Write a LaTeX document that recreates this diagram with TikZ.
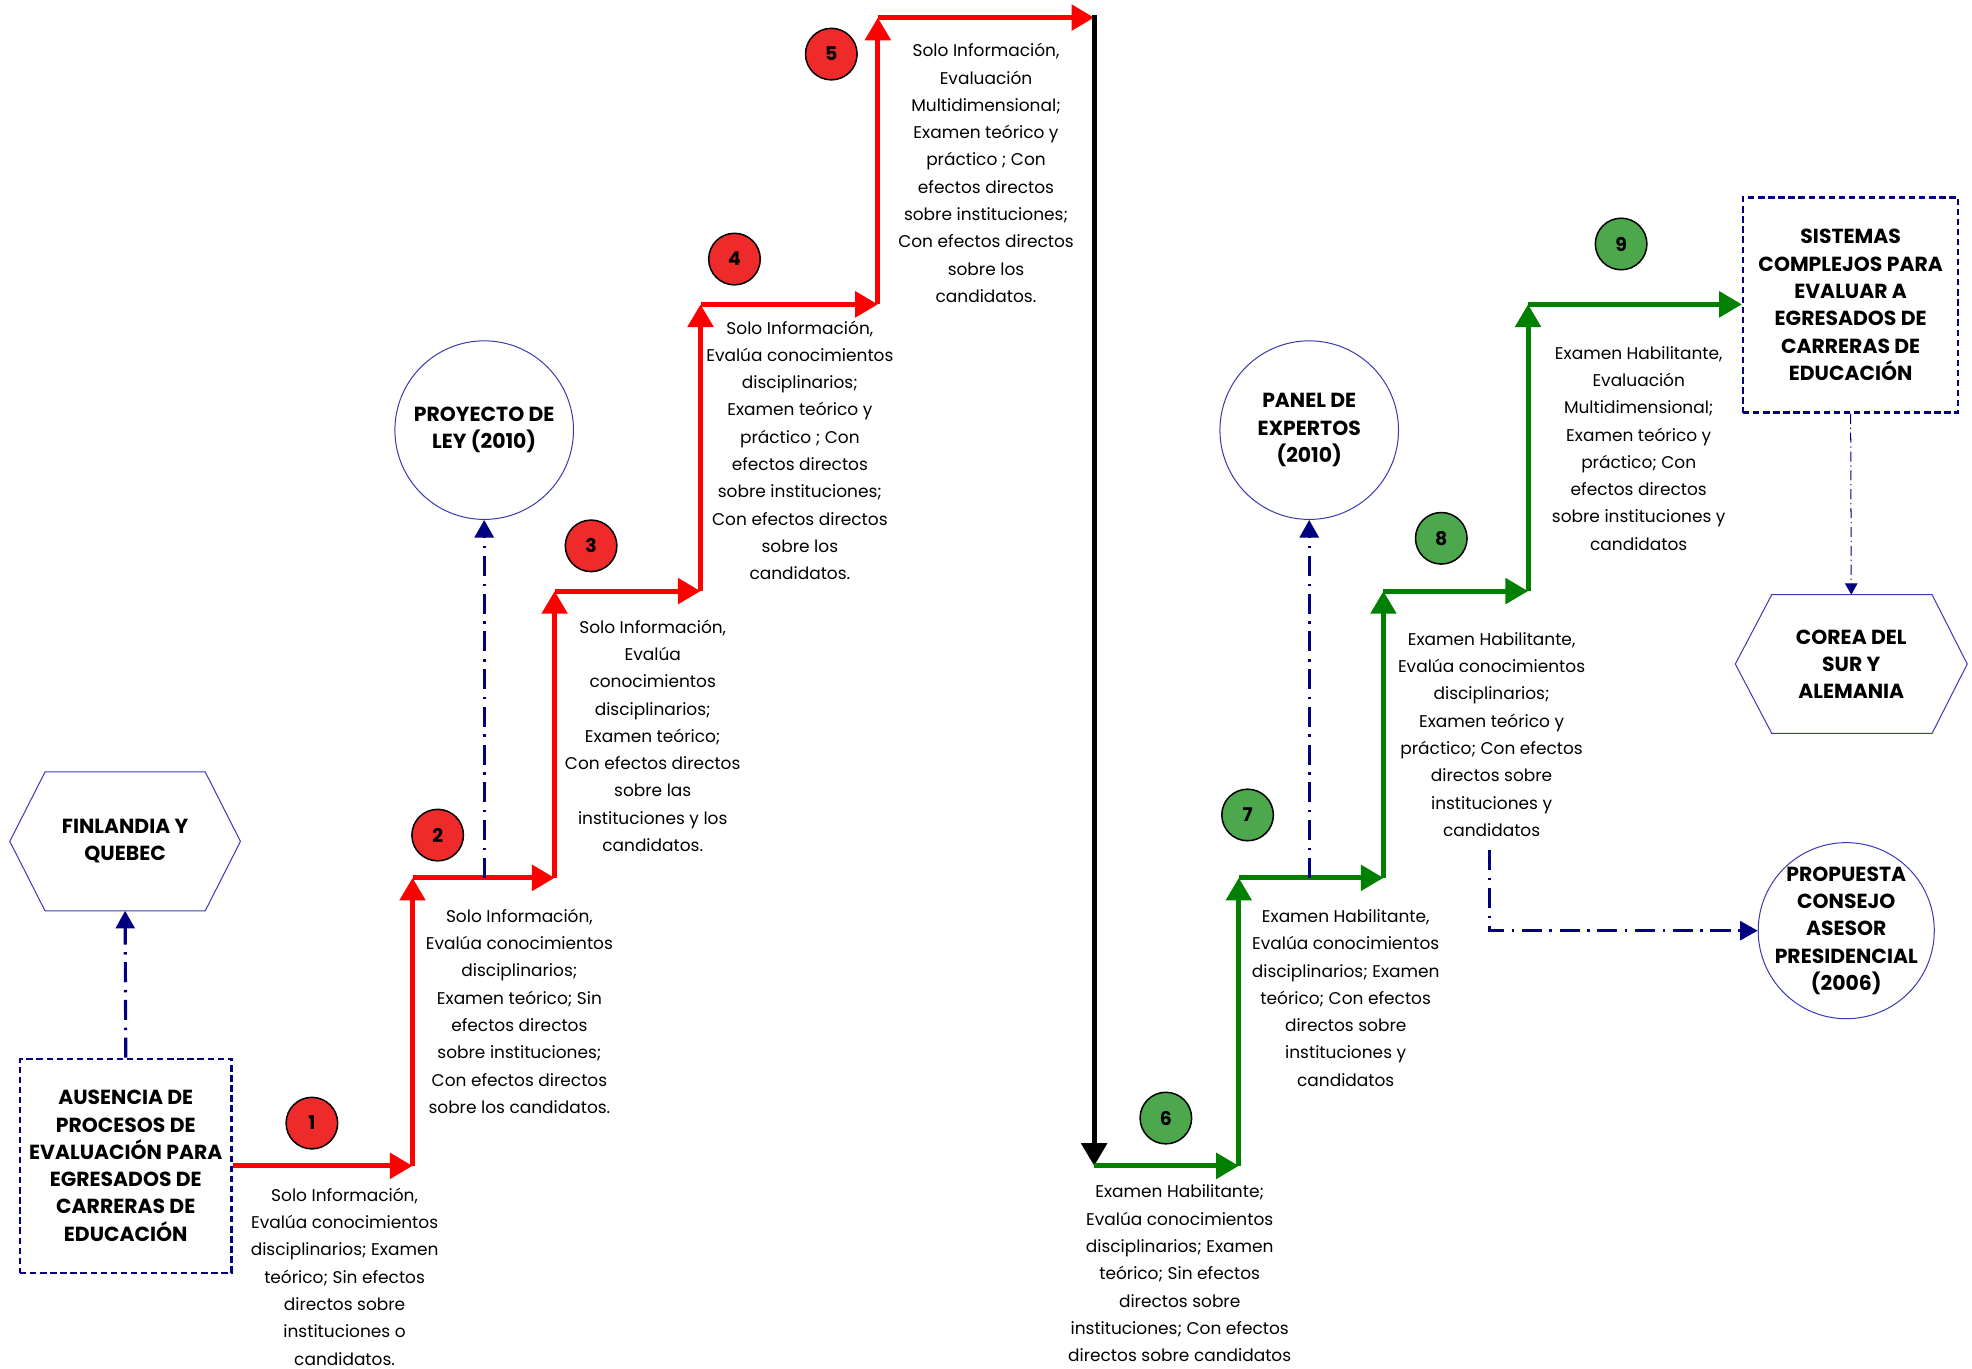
\documentclass[tikz,border=0pt]{standalone}
\usepackage{fontspec}
\setmainfont{Poppins}
\usetikzlibrary{arrows.meta}
\definecolor{navy}{HTML}{000080}
\definecolor{hexblue}{HTML}{3A3AB0}
\definecolor{stepred}{HTML}{FF0000}
\definecolor{stepgreen}{HTML}{008000}
\definecolor{numred}{HTML}{EE2A2A}
\definecolor{numgreen}{HTML}{4DA84D}
\begin{document}
\begin{tikzpicture}[x=1pt,y=-1pt,
  redstep/.style={draw=stepred, line width=4pt, -{Triangle[length=18pt,width=20pt]}},
  greenstep/.style={draw=stepgreen, line width=4pt, -{Triangle[length=18pt,width=20pt]}},
  blackstep/.style={draw=black, line width=4pt, -{Triangle[length=18pt,width=20pt]}},
  numr/.style={circle, draw=black, line width=1.2pt, fill=numred, minimum size=41pt, inner sep=0pt, font=\bfseries\fontsize{15}{15}\selectfont},
  numg/.style={numr, fill=numgreen},
  lbl/.style={align=center, inner sep=0pt, font=\fontsize{13.5}{21.7}\selectfont},
  dbox/.style={draw=navy, line width=2pt, dash pattern=on 5pt off 3pt, minimum width=168pt, minimum height=170pt, align=center, inner sep=0pt, font=\bfseries\fontsize{16.2}{21.7}\selectfont},
  bcirc/.style={circle, draw=hexblue, line width=0.8pt, align=center, inner sep=-20pt, font=\bfseries\fontsize{16.2}{21.7}\selectfont},
  hexline/.style={draw=hexblue, line width=0.8pt},
  hexnode/.style={align=center, inner sep=0pt, font=\bfseries\fontsize{16.2}{21.7}\selectfont},
  navyarrow/.style={draw=navy, line width=2.5pt, dash pattern=on 16pt off 6pt on 2pt off 6pt, -{Triangle[length=14pt,width=15pt]}},
  thinarrow/.style={draw=navy, line width=0.8pt, dash pattern=on 8pt off 3pt on 1pt off 3pt, -{Triangle[length=9pt,width=10pt]}}
]
\useasboundingbox (0,0) rectangle (1568,1088);

% main boxes
\node[dbox] (aus) at (100,927) {AUSENCIA DE\\PROCESOS DE\\EVALUACIÓN PARA\\EGRESADOS DE\\CARRERAS DE\\EDUCACIÓN};
\node[dbox, minimum width=171pt, minimum height=171pt] (sis) at (1471.5,242.5) {SISTEMAS\\COMPLEJOS PARA\\EVALUAR A\\EGRESADOS DE\\CARRERAS DE\\EDUCACIÓN};

% hexagons
\node[hexnode, minimum width=183pt, minimum height=110pt] (fin) at (99.5,669) {FINLANDIA Y\\QUEBEC};
\draw[hexline] (fin.west) -- ([xshift=28pt]fin.north west) -- ([xshift=-28pt]fin.north east) -- (fin.east) -- ([xshift=-28pt]fin.south east) -- ([xshift=28pt]fin.south west) -- cycle;
\node[hexnode, minimum width=184pt, minimum height=110pt] (cor) at (1472,528) {COREA DEL\\SUR Y\\ALEMANIA};
\draw[hexline] (cor.west) -- ([xshift=29pt]cor.north west) -- ([xshift=-28pt]cor.north east) -- (cor.east) -- ([xshift=-28pt]cor.south east) -- ([xshift=29pt]cor.south west) -- cycle;

% circles
\node[bcirc, minimum size=142pt] (pro) at (385,342) {PROYECTO DE\\LEY (2010)};
\node[bcirc, minimum size=142pt] (pan) at (1041,342) {PANEL DE\\EXPERTOS\\(2010)};
\node[bcirc, minimum size=140pt] (prop) at (1468,740) {PROPUESTA\\CONSEJO\\ASESOR\\PRESIDENCIAL\\(2006)};

% staircase corners
\coordinate (c1) at (328,927);
\coordinate (c2) at (328,698);
\coordinate (c3) at (441,698);
\coordinate (c4) at (441,470);
\coordinate (c5) at (557,470);
\coordinate (c6) at (557,242);
\coordinate (c7) at (698,242);
\coordinate (c8) at (698,14);
\coordinate (c9) at (870,14);
\coordinate (c9t) at (870,12);
\coordinate (c10) at (870,927);
\coordinate (c11) at (985,927);
\coordinate (c12) at (985,698);
\coordinate (c13) at (1100,698);
\coordinate (c14) at (1100,470);
\coordinate (c15) at (1215,470);
\coordinate (c16) at (1215,242);

\draw[redstep] (aus.east) -- (c1);
\draw[redstep] (c1) -- (c2);
\draw[redstep] (c2) -- (c3);
\draw[redstep] (c3) -- (c4);
\draw[redstep] (c4) -- (c5);
\draw[redstep] (c5) -- (c6);
\draw[redstep] (c6) -- (c7);
\draw[redstep] (c7) -- (c8);
\draw[redstep] (c8) -- (c9);
\draw[blackstep] (c9t) -- (c10);
\draw[greenstep] (c10) -- (c11);
\draw[greenstep] (c11) -- (c12);
\draw[greenstep] (c12) -- (c13);
\draw[greenstep] (c13) -- (c14);
\draw[greenstep] (c14) -- (c15);
\draw[greenstep] (c15) -- (c16);
\draw[greenstep] (c16) -- (sis.west |- c16);

% dash-dot connectors
\coordinate (p2) at (385,698);
\coordinate (p7) at (1041,698);
\coordinate (p8) at (1184,676);
\draw[navyarrow] (aus.north) -- (fin.south);
\draw[navyarrow] (p2) -- (pro.south);
\draw[navyarrow] (p7) -- (pan.south);
\draw[navyarrow] (p8) |- (prop.west);
\draw[thinarrow] (sis.south) -- (cor.north);

% number circles
\node[numr] (n1) at (248,893) {1};
\node[numr] (n2) at (348,664) {2};
\node[numr] (n3) at (470,434) {3};
\node[numr] (n4) at (584,206) {4};
\node[numr] (n5) at (661,43) {5};
\node[numg] (n6) at (927,889) {6};
\node[numg] (n7) at (992,648) {7};
\node[numg] (n8) at (1146,428) {8};
\node[numg] (n9) at (1289,194) {9};

% labels
\node[lbl] (l1) at (274,1015) {Solo Información,\\Evalúa conocimientos\\disciplinarios; Examen\\teórico; Sin efectos\\directos sobre\\instituciones o\\candidatos.};
\node[lbl] (l2) at (413,804) {Solo Información,\\Evalúa conocimientos\\disciplinarios;\\Examen teórico; Sin\\efectos directos\\sobre instituciones;\\Con efectos directos\\sobre los candidatos.};
\node[lbl] (l3) at (519,585) {Solo Información,\\Evalúa\\conocimientos\\disciplinarios;\\Examen teórico;\\Con efectos directos\\sobre las\\instituciones y los\\candidatos.};
\node[lbl] (l4) at (636,358) {Solo Información,\\Evalúa conocimientos\\disciplinarios;\\Examen teórico y\\práctico ; Con\\efectos directos\\sobre instituciones;\\Con efectos directos\\sobre los\\candidatos.};
\node[lbl] (l5) at (784,137.5) {Solo Información,\\Evaluación\\Multidimensional;\\Examen teórico y\\práctico ; Con\\efectos directos\\sobre instituciones;\\Con efectos directos\\sobre los\\candidatos.};
\node[lbl] (l6) at (938,1012.5) {Examen Habilitante;\\Evalúa conocimientos\\disciplinarios; Examen\\teórico; Sin efectos\\directos sobre\\instituciones; Con efectos\\directos sobre candidatos};
\node[lbl] (l7) at (1070,793.5) {Examen Habilitante,\\Evalúa conocimientos\\disciplinarios; Examen\\teórico; Con efectos\\directos sobre\\instituciones y\\candidatos};
\node[lbl] (l8) at (1186,584) {Examen Habilitante,\\Evalúa conocimientos\\disciplinarios;\\Examen teórico y\\práctico; Con efectos\\directos sobre\\instituciones y\\candidatos};
\node[lbl] (l9) at (1303,356.5) {Examen Habilitante,\\Evaluación\\Multidimensional;\\Examen teórico y\\práctico; Con\\efectos directos\\sobre instituciones y\\candidatos};
\end{tikzpicture}
\end{document}
